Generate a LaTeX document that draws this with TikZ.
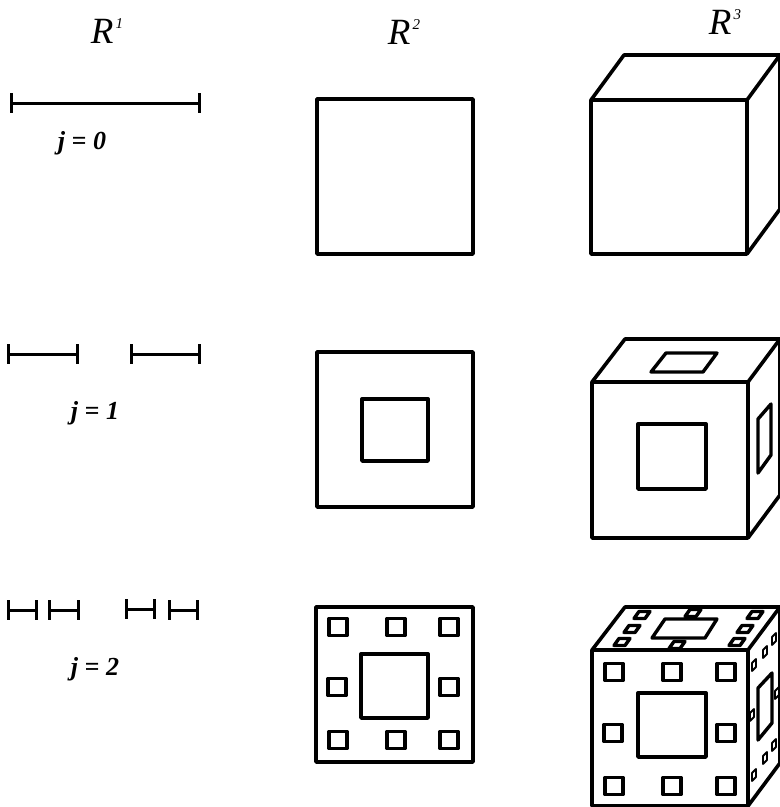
\documentclass[tikz,border=0pt]{standalone}
\usepackage{fontspec}
\setmainfont{Liberation Serif}
\tikzset{
    edgeline/.style={line width=3.6pt, line join=round},
    barline/.style={line width=3pt},
    holeline/.style={line width=3.4pt, line join=round},
    tinyline/.style={line width=1.8pt, line join=round},
    spacelabel/.style={inner sep=0pt, font=\fontsize{37}{37}\selectfont\itshape},
    levellabel/.style={inner sep=0pt, font=\fontsize{26}{26}\selectfont\bfseries\itshape},
}
\newcommand{\upidx}[1]{\kern2pt\raisebox{15pt}{\fontsize{15}{15}\selectfont #1}}
\begin{document}
\begin{tikzpicture}[x=1pt, y=-1pt]
    \clip (0,0) rectangle (780,807);

    % Column headings
    \node[spacelabel] (headOne) at (107,31) {R\upidx{1}};
    \node[spacelabel] (headTwo) at (404,32) {R\upidx{2}};
    \node[spacelabel] (headThree) at (725,22) {R\upidx{3}};

    \node[levellabel] (levelZero) at (82,143) {j = 0};
    \node[levellabel] (levelOne) at (95,413) {j = 1};
    \node[levellabel] (levelTwo) at (95,669) {j = 2};

    % Intervals: left end, right end, height
    \foreach \xA/\xB/\yA in {11/199/103, 8/77/354, 131/199/354, 8/36/610, 49/78/610, 126/154/609, 169/197/610}{
        \draw[barline] (\xA,\yA-10) -- (\xA,\yA+10);
        \draw[barline] (\xB,\yA-10) -- (\xB,\yA+10);
        \draw[barline] (\xA,\yA) -- (\xB,\yA);
    }

    % Plane squares
    \draw[edgeline] (317,99) rectangle (473,254);
    \draw[edgeline] (317,352) rectangle (473,507);
    \draw[holeline] (362,399) rectangle (428,461);
    \draw[edgeline] (316,607) rectangle (473,762);
    \draw[holeline] (361,654) rectangle (428,718);
    \foreach \cX/\cY in {338/627, 396/627, 449/627, 337/687, 449/687, 338/740, 396/740, 449/740}{
        \draw[holeline] (\cX-9,\cY-8.5) rectangle (\cX+9,\cY+8.5);
    }

    % Cubes: front left, front right, front top, front bottom, depth
    \foreach \xL/\xR/\yT/\yB/\dY in {591/747/100/254/45, 592/748/382/538/43, 592/748/650/806/43}{
        \pgfmathsetmacro{\xBack}{\xL+33}
        \pgfmathsetmacro{\yBack}{\yT-\dY}
        \pgfmathsetmacro{\yLow}{\yB-\dY}
        \draw[edgeline] (\xL,\yT) rectangle (\xR,\yB);
        \draw[edgeline] (\xL,\yT) -- (\xBack,\yBack) -- (780,\yBack) -- (\xR,\yT);
        \draw[edgeline] (\xR,\yB) -- (780,\yLow) -- (780,\yBack);
    }

    % Cube holes, j = 1
    \draw[holeline] (638,424) rectangle (706,489);
    \draw[holeline] (651,372) -- (703,372) -- (717,353) -- (666,353) -- cycle;
    \draw[holeline] (758,419) -- (771,404) -- (771,455) -- (758,473) -- cycle;

    % Cube holes, j = 2
    \draw[holeline] (638,693) rectangle (706,757);
    \draw[holeline] (652,638) -- (705,638) -- (717,619) -- (665,619) -- cycle;
    \draw[holeline] (758,688) -- (772,673) -- (772,723) -- (758,740) -- cycle;
    \foreach \cX/\cY in {614/672, 672/672, 726/672, 613/733, 726/733, 614/786, 672/786, 726/786}{
        \draw[holeline] (\cX-9,\cY-8.5) rectangle (\cX+9,\cY+8.5);
    }
    \foreach \cX/\cY in {622/642, 632/629, 642/615, 677/645, 693/613, 737/642, 745/629, 755/615}{
        \draw[holeline] (\cX-8,\cY+3.5) -- (\cX+3,\cY+3.5) -- (\cX+8,\cY-3.5) -- (\cX-3,\cY-3.5) -- cycle;
    }
    \foreach \cX/\cY in {754/665, 765/652, 774/639, 754/775, 765/758, 774/745, 752/715, 777/693}{
        \draw[tinyline] (\cX-2,\cY-2) -- (\cX+2,\cY-6) -- (\cX+2,\cY+2) -- (\cX-2,\cY+6) -- cycle;
    }
\end{tikzpicture}
\end{document}
